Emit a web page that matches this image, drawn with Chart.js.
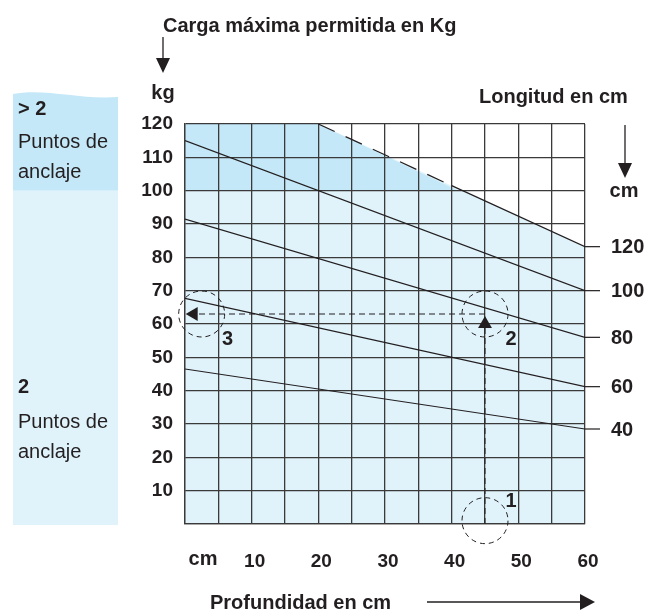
<!DOCTYPE html>
<html>
<head>
<meta charset="utf-8">
<script src="https://cdn.jsdelivr.net/npm/chart.js@4.4.0/dist/chart.umd.min.js"></script>
<style>
  html, body { margin: 0; padding: 0; background: #fff; }
  #wrap { width: 658px; height: 614px; }
</style>
</head>
<body>
<div id="wrap"><canvas id="chart" width="658" height="614"></canvas></div>
<script>
// length lines (cm): load at depth 0 and depth 60
var lengths = [40, 60, 80, 100];
var loadAtZero = [46.5, 67.7, 91.5, 115];
var loadAtSixty = [28.5, 41.2, 56, 70];

// 120 cm line, dashed part up to 40 cm
var line120Depth = [20, 40, 60];
var line120Load = [120, 101.5, 83.2];

// shaded zones
var limitDepth = [0, 20, 40, 60];
var limitLoad = [120, 120, 101.5, 83.2];
var upperDepth = [0, 20, 41];
var upperLoad = [120, 120, 100];

// reading example (steps 1-2-3)
var guideDepth = [45, 45, 0];
var guideLoad = [0, 63, 63];
var markerDepth = [45, 1.3];
var markerLoad = [60, 63];
var stepLabels = ["1", "2", "3"];
var stepDepth = [45, 45, 2.5];
var stepLoad = [1, 63, 63];

var ink = "#231f20";
var gridColor = "#3a3a3a";
var lightBlue = "#e0f3fb";
var darkBlue = "#c5e8f8";

function pts(xs, ys) {
  return xs.map(function(x, i) { return { x: x, y: ys[i] }; });
}

// filler draws these in reverse order, so the darker band goes first
var datasets = [
  {
    data: pts(upperDepth, upperLoad),
    borderWidth: 0,
    borderColor: "rgba(0,0,0,0)",
    backgroundColor: darkBlue,
    fill: { value: 100 },
    pointRadius: 0
  },
  {
    data: pts(limitDepth, limitLoad),
    borderWidth: 0,
    borderColor: "rgba(0,0,0,0)",
    backgroundColor: lightBlue,
    fill: "origin",
    pointRadius: 0
  }
];

lengths.forEach(function(len, i) {
  datasets.push({
    label: len + " cm",
    data: [{ x: 0, y: loadAtZero[i] }, { x: 60, y: loadAtSixty[i] }],
    borderColor: ink,
    borderWidth: 1.2,
    pointRadius: 0,
    fill: false
  });
});

datasets.push({
  label: "120 cm",
  data: pts(line120Depth, line120Load),
  borderColor: ink,
  borderWidth: 1.2,
  pointRadius: 0,
  fill: false,
  segment: {
    borderDash: function(c) { return c.p0.parsed.x < 40 ? [18, 12] : undefined; }
  }
});

datasets.push({
  data: pts(guideDepth, guideLoad),
  borderColor: ink,
  borderWidth: 1,
  borderDash: [6, 4],
  pointRadius: 0,
  fill: false
});

datasets.push({
  data: pts(markerDepth, markerLoad),
  showLine: false,
  pointStyle: "triangle",
  pointRotation: [0, -90],
  pointRadius: 8,
  pointBackgroundColor: ink,
  pointBorderColor: ink,
  pointBorderWidth: 0
});

var sketch = {
  id: "sketch",
  beforeDraw: function(chart) {
    var ctx = chart.ctx;
    var y = chart.scales.y;
    var y100 = y.getPixelForValue(100);
    var y0 = y.getPixelForValue(0) + 1;
    ctx.save();
    ctx.fillStyle = darkBlue;
    ctx.beginPath();
    ctx.moveTo(13, 94);
    ctx.bezierCurveTo(45, 88, 80, 100, 118, 97);
    ctx.lineTo(118, y100);
    ctx.lineTo(13, y100);
    ctx.closePath();
    ctx.fill();
    ctx.fillStyle = lightBlue;
    ctx.fillRect(13, y100, 105, y0 - y100);

    ctx.fillStyle = ink;
    ctx.textAlign = "left";
    ctx.textBaseline = "alphabetic";
    ctx.font = "bold 20px 'Liberation Sans', Arial, sans-serif";
    ctx.fillText("> 2", 18, 115);
    ctx.fillText("2", 18, 393);
    ctx.font = "20px 'Liberation Sans', Arial, sans-serif";
    ctx.fillText("Puntos de", 18, 148);
    ctx.fillText("anclaje", 18, 178);
    ctx.fillText("Puntos de", 18, 428);
    ctx.fillText("anclaje", 18, 458);
    ctx.restore();
  },
  afterDraw: function(chart) {
    var ctx = chart.ctx;
    var xs = chart.scales.x, ys = chart.scales.y;
    var area = chart.chartArea;
    ctx.save();

    // dashed circles and step numbers
    ctx.strokeStyle = ink;
    ctx.lineWidth = 1;
    ctx.setLineDash([5, 4]);
    stepLabels.forEach(function(lbl, i) {
      var cx = xs.getPixelForValue(stepDepth[i]);
      var cy = ys.getPixelForValue(stepLoad[i]);
      ctx.beginPath();
      ctx.arc(cx, cy, 23, 0, Math.PI * 2);
      ctx.stroke();
    });
    ctx.setLineDash([]);
    ctx.fillStyle = ink;
    ctx.font = "bold 20px 'Liberation Sans', Arial, sans-serif";
    ctx.textAlign = "center";
    ctx.textBaseline = "middle";
    stepLabels.forEach(function(lbl, i) {
      var cx = xs.getPixelForValue(stepDepth[i]);
      var cy = ys.getPixelForValue(stepLoad[i]);
      var dy = i === 0 ? -19 : 25;
      ctx.fillText(lbl, cx + 26, cy + dy);
    });

    // length labels on the right
    var ends = loadAtSixty.concat([line120Load[line120Load.length - 1]]);
    var names = lengths.concat([120]);
    ctx.textAlign = "left";
    ctx.lineWidth = 1.2;
    names.forEach(function(n, i) {
      var py = ys.getPixelForValue(ends[i]);
      ctx.beginPath();
      ctx.moveTo(area.right, py);
      ctx.lineTo(area.right + 15, py);
      ctx.stroke();
      ctx.fillText(String(n), area.right + 26, py + 1);
    });

    // x unit
    ctx.textAlign = "center";
    ctx.fillText("cm", 203, 559);

    // titles
    ctx.textBaseline = "alphabetic";
    ctx.textAlign = "left";
    ctx.fillText("Carga máxima permitida en Kg", 163, 31.5);
    ctx.fillText("Longitud en cm", 479, 102.5);
    ctx.fillText("Profundidad en cm", 210, 608.5);
    ctx.textAlign = "center";
    ctx.fillText("kg", 163, 99);
    ctx.fillText("cm", 624, 196.5);

    // arrows
    function arrowDown(x, y1, y2) {
      ctx.beginPath();
      ctx.moveTo(x, y1);
      ctx.lineTo(x, y2 - 14);
      ctx.stroke();
      ctx.beginPath();
      ctx.moveTo(x - 7, y2 - 15);
      ctx.lineTo(x + 7, y2 - 15);
      ctx.lineTo(x, y2);
      ctx.closePath();
      ctx.fill();
    }
    ctx.lineWidth = 1.3;
    arrowDown(163, 37, 73);
    arrowDown(625, 125, 178);
    ctx.beginPath();
    ctx.moveTo(427, 602);
    ctx.lineTo(582, 602);
    ctx.stroke();
    ctx.beginPath();
    ctx.moveTo(580, 594);
    ctx.lineTo(580, 610);
    ctx.lineTo(595, 602);
    ctx.closePath();
    ctx.fill();

    ctx.restore();
  }
};

var chart = new Chart(document.getElementById("chart").getContext("2d"), {
  type: "line",
  data: { datasets: datasets },
  plugins: [sketch],
  options: {
    responsive: false,
    animation: false,
    layout: { padding: { top: 124, right: 73, left: 0, bottom: 0 } },
    elements: { line: { tension: 0 } },
    plugins: {
      legend: { display: false },
      tooltip: { enabled: false },
      filler: { drawTime: "beforeDraw" }
    },
    scales: {
      x: {
        type: "linear",
        min: 0,
        max: 60,
        afterFit: function(s) { s.height = 90; },
        grid: { color: gridColor, lineWidth: 1.3, drawTicks: false },
        border: { color: gridColor, width: 1.3 },
        ticks: {
          stepSize: 5,
          autoSkip: false,
          maxRotation: 0,
          padding: 26,
          labelOffset: 3,
          color: ink,
          font: { size: 19, weight: "bold", family: "'Liberation Sans', Arial, sans-serif" },
          callback: function(v) { return v > 0 && v % 10 === 0 ? v : ""; }
        }
      },
      y: {
        min: 0,
        max: 120,
        afterFit: function(s) { s.width = 185; },
        grid: { color: gridColor, lineWidth: 1.3, drawTicks: false },
        border: { color: gridColor, width: 1.3 },
        ticks: {
          stepSize: 10,
          padding: 12,
          color: ink,
          font: { size: 19, weight: "bold", family: "'Liberation Sans', Arial, sans-serif" },
          callback: function(v) { return v > 0 ? v : ""; }
        }
      }
    }
  }
});
</script>
</body>
</html>
